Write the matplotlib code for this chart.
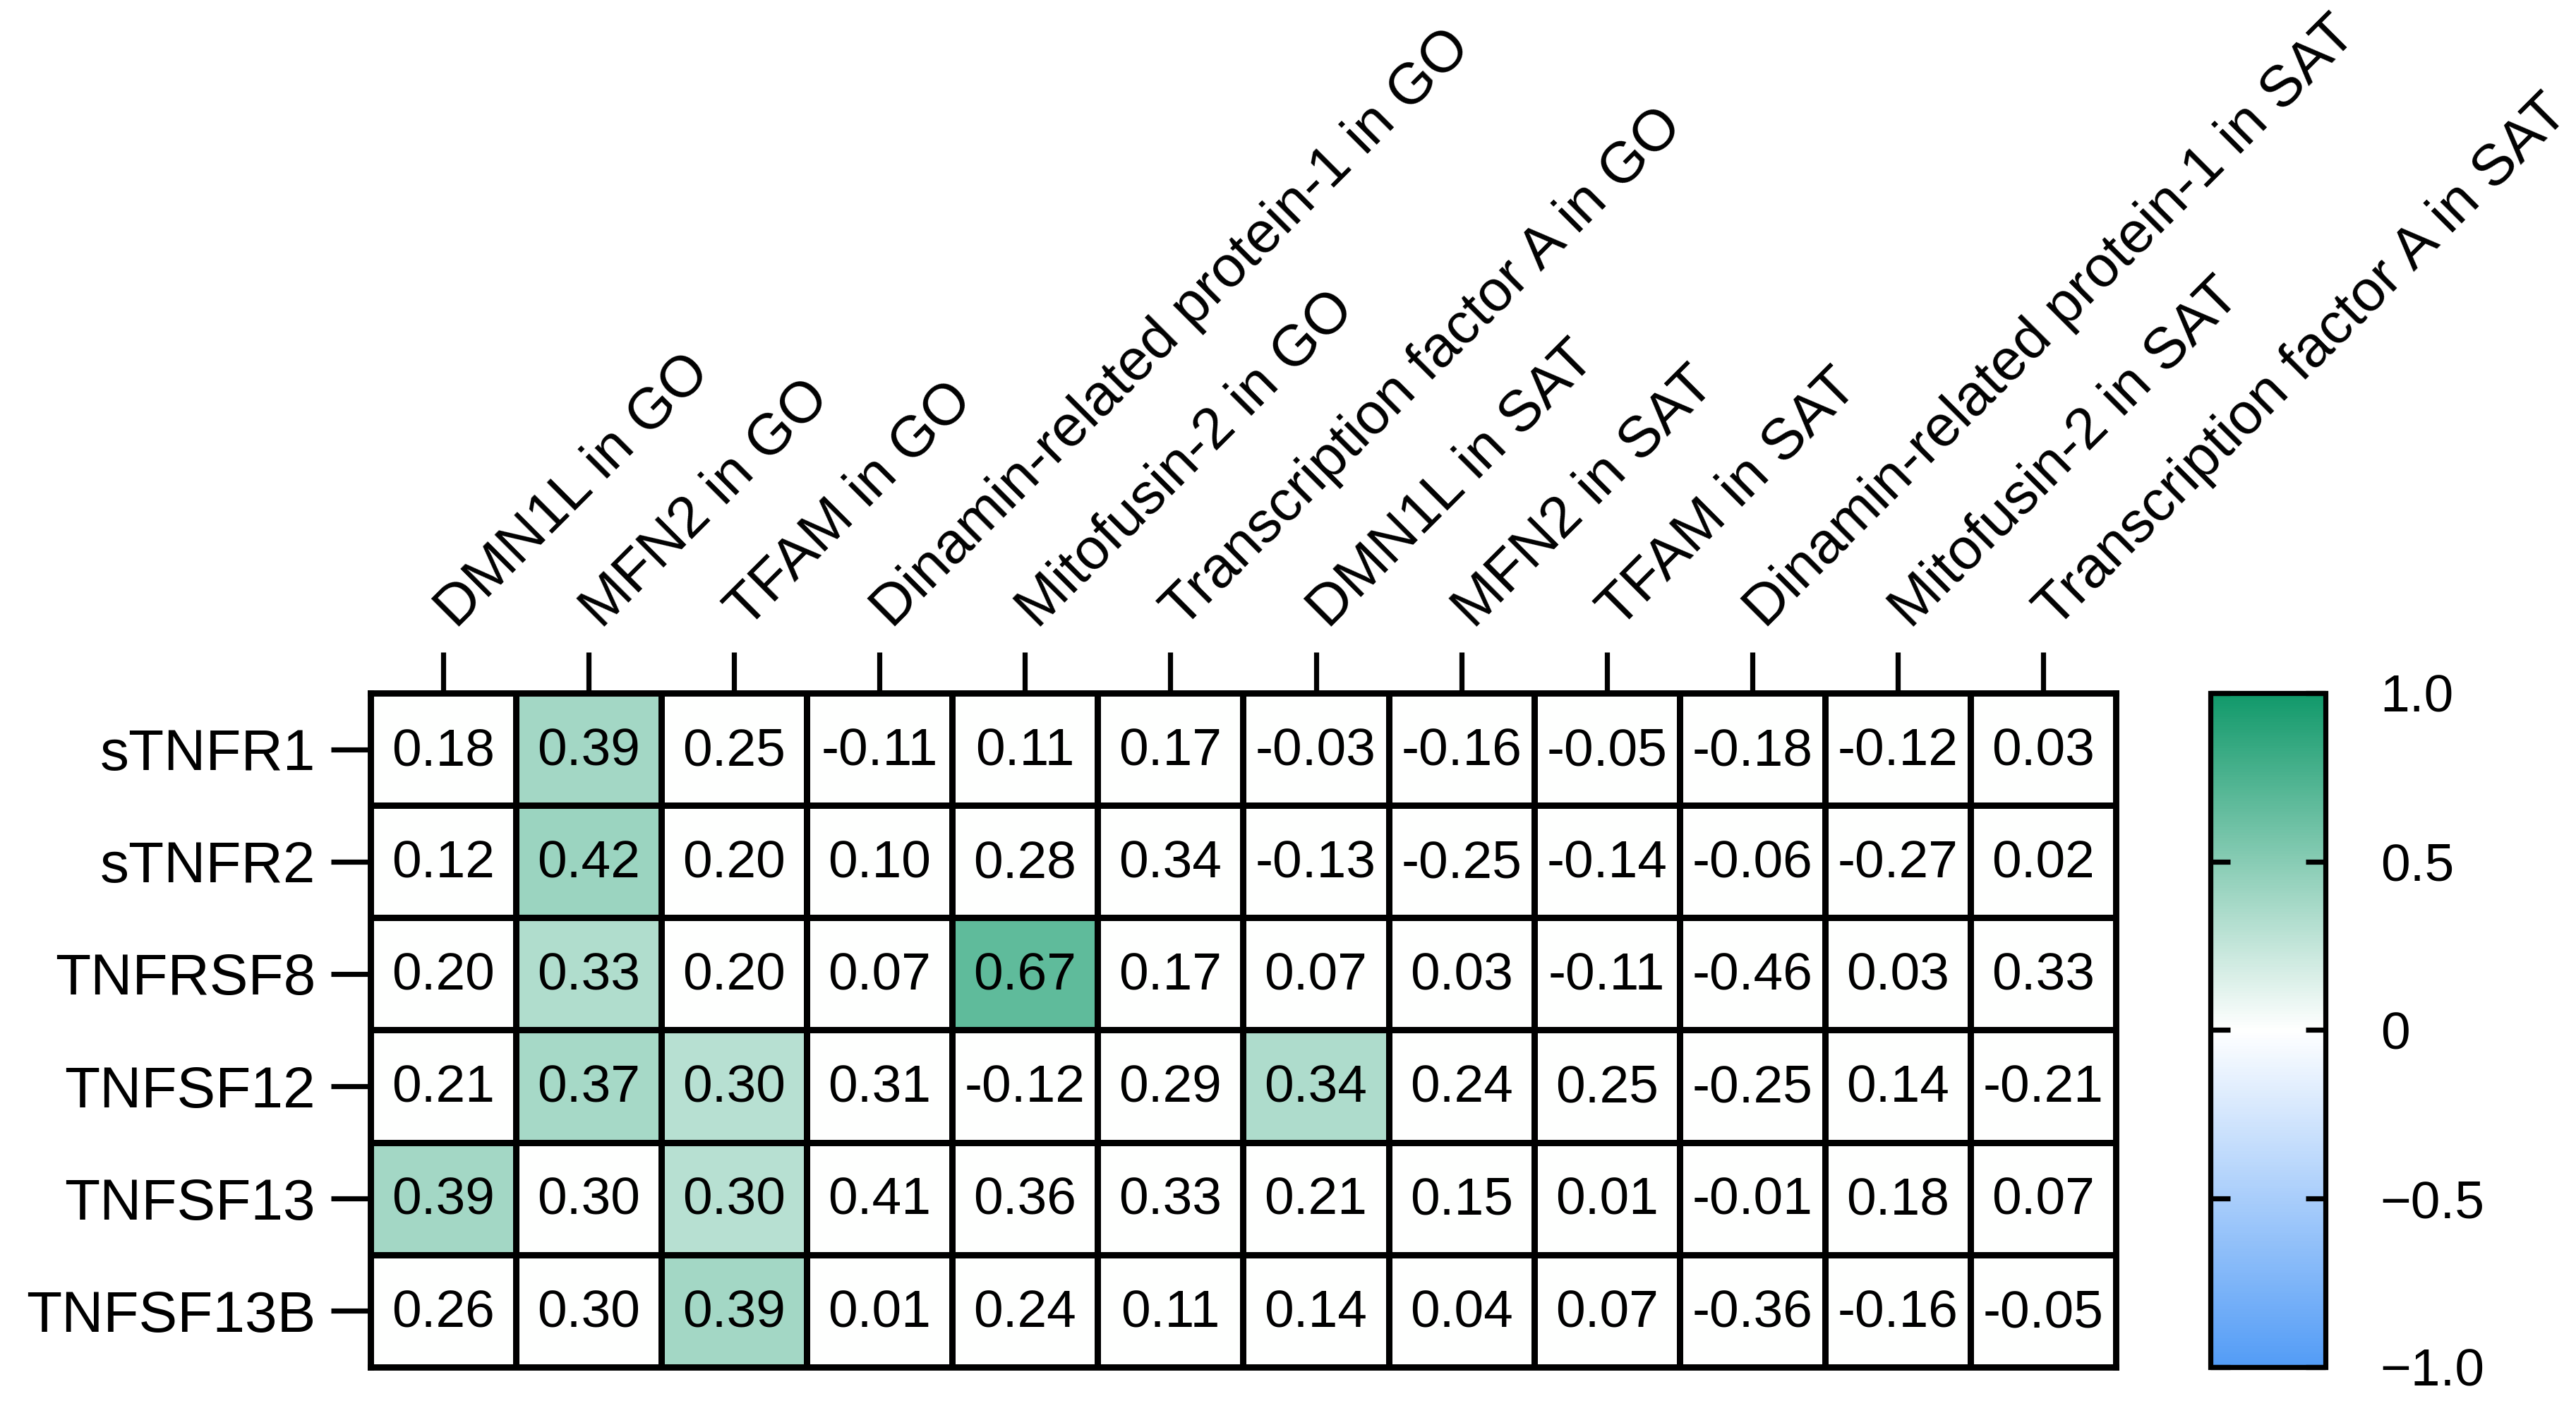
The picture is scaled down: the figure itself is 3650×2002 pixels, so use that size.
import numpy as np
import matplotlib

matplotlib.use("Agg")
import matplotlib.pyplot as plt  # noqa: E402
import matplotlib.transforms as mtransforms  # noqa: E402
from matplotlib.colors import LinearSegmentedColormap, Normalize  # noqa: E402
from matplotlib.cm import ScalarMappable  # noqa: E402

plt.rcParams["font.family"] = ["Liberation Sans", "DejaVu Sans"]

cols = ["DMN1L in GO", "MFN2 in GO", "TFAM in GO",
        "Dinamin-related protein-1 in GO", "Mitofusin-2 in GO",
        "Transcription factor A in GO",
        "DMN1L in SAT", "MFN2 in SAT", "TFAM in SAT",
        "Dinamin-related protein-1 in SAT", "Mitofusin-2 in SAT",
        "Transcription factor A in SAT"]
rows = ["sTNFR1", "sTNFR2", "TNFRSF8", "TNFSF12", "TNFSF13", "TNFSF13B"]

r_stnfr1 = [0.18, 0.39, 0.25, -0.11, 0.11, 0.17, -0.03, -0.16, -0.05, -0.18, -0.12, 0.03]
r_stnfr2 = [0.12, 0.42, 0.20, 0.10, 0.28, 0.34, -0.13, -0.25, -0.14, -0.06, -0.27, 0.02]
r_tnfrsf8 = [0.20, 0.33, 0.20, 0.07, 0.67, 0.17, 0.07, 0.03, -0.11, -0.46, 0.03, 0.33]
r_tnfsf12 = [0.21, 0.37, 0.30, 0.31, -0.12, 0.29, 0.34, 0.24, 0.25, -0.25, 0.14, -0.21]
r_tnfsf13 = [0.39, 0.30, 0.30, 0.41, 0.36, 0.33, 0.21, 0.15, 0.01, -0.01, 0.18, 0.07]
r_tnfsf13b = [0.26, 0.30, 0.39, 0.01, 0.24, 0.11, 0.14, 0.04, 0.07, -0.36, -0.16, -0.05]

# which cells are shaded (significant); the rest stay white
sig_cells = [(0, 1), (1, 1), (2, 1), (2, 4), (3, 1), (3, 2), (3, 6),
             (4, 0), (4, 2), (5, 2)]

vals = np.array([r_stnfr1, r_stnfr2, r_tnfrsf8, r_tnfsf12, r_tnfsf13, r_tnfsf13b])
sig = np.zeros_like(vals, dtype=bool)
for i, j in sig_cells:
    sig[i, j] = True
shown = np.where(sig, vals, 0.0)

cmap = LinearSegmentedColormap.from_list(
    "bwg", [(0.0, "#539cf6"), (0.5, "#ffffff"), (1.0, "#11996a")])
norm = Normalize(-1, 1)

LW = 2.6
fig = plt.figure(figsize=(18.25, 10.01), dpi=200)
ax = fig.add_axes([0.1438, 0.0325, 0.6776, 0.477])
ax.pcolormesh(np.arange(13), np.arange(7), shown, cmap=cmap, norm=norm,
              edgecolors="black", linewidth=LW)
ax.set_xlim(0, 12)
ax.set_ylim(6, 0)
for s in ax.spines.values():
    s.set_linewidth(LW + 0.6)

for i in range(vals.shape[0]):
    for j in range(vals.shape[1]):
        ax.text(j + 0.5, i + 0.52, f"{vals[i, j]:.2f}", ha="center", va="center",
                fontsize=27)

ax.xaxis.tick_top()
ax.set_xticks(np.arange(12) + 0.5)
ax.set_xticklabels([])
# slanted column labels, a bit right of their ticks as in the original figure
shift = mtransforms.ScaledTranslation(0.15, 28 / 72, fig.dpi_scale_trans)
for j, name in enumerate(cols):
    ax.text(j + 0.5, 0, name, rotation=45, ha="left", va="bottom",
            rotation_mode="anchor", fontsize=29.5,
            transform=ax.transData + shift, clip_on=False)
ax.set_yticks(np.arange(6) + 0.5)
ax.set_yticklabels(rows, fontsize=29.5)
ax.tick_params(axis="x", length=21, width=LW, pad=7)
ax.tick_params(axis="y", length=20, width=LW, pad=8)

cax = fig.add_axes([0.858, 0.0325, 0.0447, 0.477])
cb = fig.colorbar(ScalarMappable(norm=norm, cmap=cmap), cax=cax)
cb.outline.set_linewidth(LW)
cb.set_ticks([-1, -0.5, 0, 0.5, 1])
cb.set_ticklabels(["\u22121.0", "\u22120.5", "0", "0.5", "1.0"])
cax.tick_params(direction="in", left=True, right=True, length=10, width=LW,
                pad=28, labelsize=27)

fig.savefig("out.png", dpi=200, facecolor="white")
